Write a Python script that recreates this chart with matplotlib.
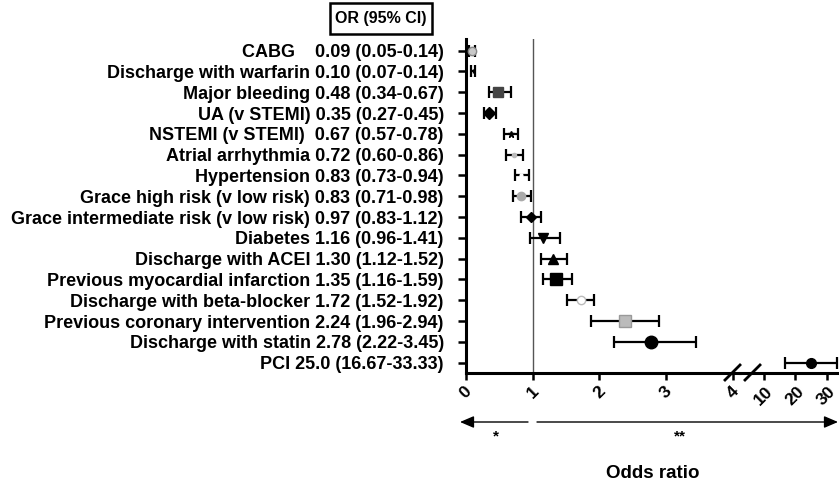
import numpy as np
import matplotlib
matplotlib.use('Agg')
import matplotlib.pyplot as plt
from matplotlib.patches import Rectangle, FancyArrowPatch
from matplotlib.lines import Line2D

W, H = 839, 488

# row labels, top to bottom
labels = ['CABG    0.09 (0.05-0.14)',
          'Discharge with warfarin 0.10 (0.07-0.14)',
          'Major bleeding 0.48 (0.34-0.67)',
          'UA (v STEMI) 0.35 (0.27-0.45)',
          'NSTEMI (v STEMI)  0.67 (0.57-0.78)',
          'Atrial arrhythmia 0.72 (0.60-0.86)',
          'Hypertension 0.83 (0.73-0.94)',
          'Grace high risk (v low risk) 0.83 (0.71-0.98)',
          'Grace intermediate risk (v low risk) 0.97 (0.83-1.12)',
          'Diabetes 1.16 (0.96-1.41)',
          'Discharge with ACEI 1.30 (1.12-1.52)',
          'Previous myocardial infarction 1.35 (1.16-1.59)',
          'Discharge with beta-blocker 1.72 (1.52-1.92)',
          'Previous coronary intervention 2.24 (1.96-2.94)',
          'Discharge with statin 2.78 (2.22-3.45)',
          'PCI 25.0 (16.67-33.33)']

# plotted points (as drawn in the figure)
odds = [0.09, 0.10, 0.48, 0.35, 0.67, 0.72, 0.83, 0.83, 0.97, 1.16, 1.30, 1.35, 1.72, 2.38, 2.78, 25.0]
ci_low = [0.05, 0.07, 0.34, 0.27, 0.57, 0.60, 0.73, 0.71, 0.83, 0.96, 1.12, 1.16, 1.52, 1.88, 2.22, 16.67]
ci_high = [0.14, 0.14, 0.67, 0.45, 0.78, 0.86, 0.94, 0.98, 1.12, 1.41, 1.52, 1.59, 1.92, 2.90, 3.45, 33.33]

# marker, size, face colour, edge colour
marker_styles = [('o', 6, '#c8c8c8', '#888888'),
                 ('|', 3, 'black', 'black'),
                 ('s', 7, '#444444', '#444444'),
                 ('D', 6, 'black', 'black'),
                 ('*', 5, 'black', 'black'),
                 ('o', 3, '#bbbbbb', '#bbbbbb'),
                 ('o', 2, 'white', 'white'),
                 ('o', 6, '#aaaaaa', '#aaaaaa'),
                 ('D', 5, 'black', 'black'),
                 ('v', 7, 'black', 'black'),
                 ('^', 7, 'black', 'black'),
                 ('s', 8, 'black', 'black'),
                 ('o', 6, 'white', '#bbbbbb'),
                 ('s', 9, '#bbbbbb', '#999999'),
                 ('o', 9, 'black', 'black'),
                 ('o', 7, 'black', 'black')]

ticks_left = [0, 1, 2, 3, 4]
ticks_right = [10, 20, 30]

plt.rcParams['font.family'] = ['Liberation Sans', 'DejaVu Sans']
plt.rcParams['font.weight'] = 'bold'

fig = plt.figure(figsize=(W / 100, H / 100), dpi=100)


def fx(px):
    return px / W


def fy(py):
    return 1 - py / H


ax_top, ax_bot = 39, 373
ax1 = fig.add_axes([fx(466), fy(ax_bot), fx(740) - fx(466), fy(ax_top) - fy(ax_bot)])
ax2 = fig.add_axes([fx(740), fy(ax_bot), 1 - fx(740), fy(ax_top) - fy(ax_bot)])

n = len(labels)
ypos = np.arange(n)[::-1]

for i in range(n):
    ax = ax2 if odds[i] > 5 else ax1
    m, ms, fc, ec = marker_styles[i]
    ax.errorbar(odds[i], ypos[i], xerr=[[odds[i] - ci_low[i]], [ci_high[i] - odds[i]]],
                fmt='none', ecolor='black', elinewidth=1.6, capsize=4, capthick=1.6, zorder=2)
    ax.plot(odds[i], ypos[i], marker=m, ms=ms, mfc=fc, mec=ec, mew=1, ls='none', zorder=3,
            clip_on=False)

ax1.axvline(1, color='#555555', lw=1, zorder=1)

for ax in (ax1, ax2):
    ax.set_ylim(-0.5, n - 1 + 0.56)
    ax.spines[['top', 'right']].set_visible(False)
    ax.spines['bottom'].set_linewidth(2.2)
    ax.tick_params(axis='x', length=5, width=1.8, pad=3, labelsize=12.5)

ax1.set_xlim(0, 4.11)
ax1.set_xticks(ticks_left)
ax1.set_xticklabels([str(t) for t in ticks_left], rotation=45, ha='center', fontweight='bold')
ax1.spines['left'].set_linewidth(2.2)
ax1.set_yticks(ypos)
ax1.set_yticklabels(labels, fontsize=13, fontweight='bold')
ax1.tick_params(axis='y', length=6, width=1.8, pad=10)

ax2.set_xlim(2.56, 33.9)
ax2.set_xticks(ticks_right)
ax2.set_xticklabels([str(t) for t in ticks_right], rotation=45, ha='center', fontweight='bold')
ax2.spines['left'].set_visible(False)
ax2.set_yticks([])

# axis break marks
for x0 in (725, 745):
    fig.add_artist(Line2D([fx(x0), fx(x0 + 15)], [fy(380), fy(365)], color='black', lw=2))

# header box
fig.add_artist(Rectangle((fx(330), fy(34)), fx(432) - fx(330), fy(3) - fy(34),
                         fill=False, ec='black', lw=1.8))
fig.text(fx(381), fy(19), 'OR (95% CI)', ha='center', va='center', fontsize=11.5, fontweight='bold')

# direction arrows
arrow_kw = dict(arrowstyle='-|>,head_length=0.7,head_width=0.3', color='black', lw=1,
                shrinkA=0, shrinkB=0, mutation_scale=12, transform=fig.transFigure)
fig.add_artist(FancyArrowPatch((fx(528), fy(422)), (fx(460), fy(422)), **arrow_kw))
fig.add_artist(FancyArrowPatch((fx(537), fy(422)), (fx(838), fy(422)), **arrow_kw))
fig.text(fx(496), fy(436), '*', ha='center', va='center', fontsize=11, fontweight='bold')
fig.text(fx(680), fy(436), '**', ha='center', va='center', fontsize=11, fontweight='bold')

fig.text(fx(653), fy(474), 'Odds ratio', ha='center', va='center', fontsize=13.5, fontweight='bold')

plt.savefig('out.png', dpi=100)
plt.close()
